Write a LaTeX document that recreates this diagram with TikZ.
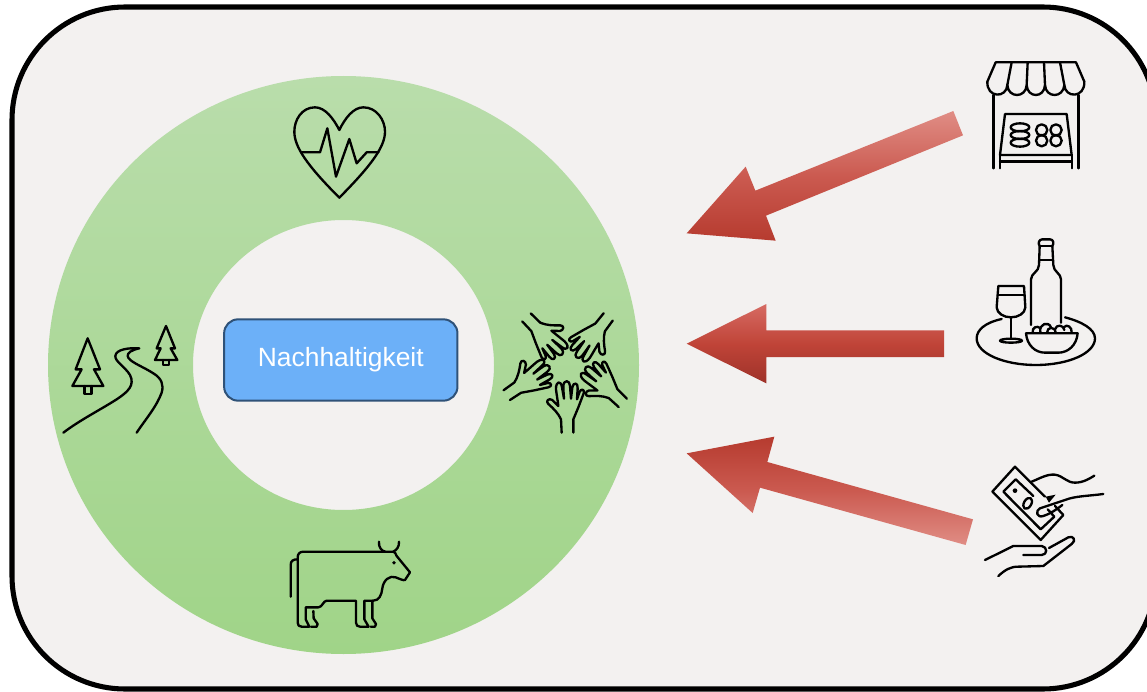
\documentclass[tikz,border=0pt]{standalone}
\usepackage{fontspec}
\setmainfont{Liberation Sans}
\definecolor{panelfill}{HTML}{F3F1F0}
\definecolor{ringtop}{HTML}{B9DDAB}
\definecolor{ringbot}{HTML}{A0D488}
\definecolor{boxfill}{HTML}{6CB0F8}
\definecolor{boxline}{HTML}{2F5278}
\definecolor{redlight}{HTML}{E08D85}
\definecolor{redmid}{HTML}{CB5A50}
\definecolor{reddark}{HTML}{B63B2F}
\definecolor{redtwotop}{HTML}{D66B63}
\definecolor{redtwomid}{HTML}{C04438}
\definecolor{redtwobot}{HTML}{9E3229}
\tikzset{
  icon/.style={draw=black,line width=1.75pt,line join=round,line cap=round},
  crop/.style={shift={#1},scale=1/3},
  arrowdown/.style={top color=redlight,bottom color=reddark,middle color=redmid},
  arrowup/.style={top color=reddark,bottom color=redlight,middle color=redmid},
  arrowmid/.style={top color=redtwotop,bottom color=redtwobot,middle color=redtwomid},
}
\newcommand{\handshape}{%
  \draw[icon,shift={(-217,-398)}]
    (200,398) -- (198,358) .. controls (190,340) and (175,325) .. (160,312)
    .. controls (150,303) and (162,293) .. (172,300)
    -- (190,318) .. controls (188,300) and (185,285) .. (183,268)
    .. controls (182,243) and (198,240) .. (201,262)
    -- (207,296) .. controls (206,280) and (205,270) .. (205,258)
    .. controls (206,238) and (225,240) .. (225,258)
    -- (228,296) -- (232,262) .. controls (235,245) and (250,248) .. (248,265)
    -- (246,298) -- (254,275) .. controls (258,265) and (270,268) .. (266,280)
    -- (250,322) -- (235,358) -- (235,398);
}
\begin{document}
\begin{tikzpicture}[x=0.75pt,y=-0.75pt]
\useasboundingbox (0,0) rectangle (1147,692);
% panel
\draw[fill=panelfill,draw=black,line width=3.8pt,rounded corners=84.75pt] (12,7) rectangle (1156,689);
% ring
\shade[even odd rule,top color=ringtop,bottom color=ringbot]
  (343.5,365) ellipse (295.5 and 289) (343.5,365) ellipse (150.5 and 145);
% centre box
\node[draw=boxline,fill=boxfill,line width=1.5pt,rounded corners=10.5pt,minimum width=175pt,minimum height=61pt,inner sep=0pt,text=white,font=\fontsize{19.8}{23}\selectfont] (core) at (340.8,360) {\raisebox{-2.2pt}{Nachhaltigkeit}};
% arrows
\begin{scope}[crop={(680,100)}]
\shade[arrowdown] (20,400) -- (197,200) -- (226,272) -- (820,33) -- (849,106) -- (258,347) -- (287,422) -- cycle;
\end{scope}
\begin{scope}[crop={(680,295)}]
\shade[arrowmid] (20,146) -- (259,27) -- (259,106) -- (792,106) -- (792,186) -- (259,186) -- (259,265) -- cycle;
\end{scope}
\begin{scope}[crop={(680,430)}]
\shade[arrowup] (20,70) -- (283,20) -- (262,96) -- (879,268) -- (857,345) -- (240,173) -- (218,249) -- cycle;
\end{scope}
% heart
\begin{scope}[crop={(270,90)}]
\draw[icon] (208,120) .. controls (190,85) and (165,52) .. (135,52)
  .. controls (95,52) and (73,90) .. (73,125)
  .. controls (73,170) and (110,225) .. (208,323)
  .. controls (305,225) and (345,170) .. (345,125)
  .. controls (345,90) and (320,52) .. (280,52)
  .. controls (250,52) and (225,85) .. (208,120) -- cycle;
\draw[icon] (95,187) -- (150,187) -- (172,115) -- (198,260) -- (238,147) -- (260,220) -- (290,187) -- (325,187);
\end{scope}
% landscape
\begin{scope}[crop={(40,310)}]
\draw[icon] (143,85) -- (180,178) -- (162,178) -- (190,228) -- (97,228) -- (125,178) -- (107,178) -- cycle;
\draw[icon] (133,228) -- (133,252) -- (155,252) -- (155,228);
\draw[icon] (378,48) -- (405,115) -- (392,115) -- (412,150) -- (345,150) -- (362,115) -- (350,115) -- cycle;
\draw[icon] (370,150) -- (370,165) -- (387,165) -- (387,150);
\draw[icon] (70,368) .. controls (120,330) and (180,300) .. (230,268)
  .. controls (265,245) and (285,225) .. (270,195)
  .. controls (255,170) and (225,155) .. (226,138)
  .. controls (228,118) and (265,113) .. (298,115)
  .. controls (275,120) and (262,128) .. (263,138)
  .. controls (265,155) and (310,170) .. (340,190)
  .. controls (365,205) and (372,225) .. (365,248)
  .. controls (350,290) and (315,330) .. (290,368);
\end{scope}
% hands
\begin{scope}[crop={(495,300)}]
\begin{scope}[shift={(217,398)}]\handshape\end{scope}
\begin{scope}[shift={(383,309)},rotate=45]\handshape\end{scope}
\begin{scope}[shift={(340,51)},rotate=141]\handshape\end{scope}
\begin{scope}[shift={(95,52)},rotate=223]\handshape\end{scope}
\begin{scope}[shift={(35,285)},rotate=-57]\handshape\end{scope}
\end{scope}
% cow
\begin{scope}[crop={(275,530)}]
\draw[icon] (47,200) -- (47,105) .. controls (47,92) and (55,88) .. (68,88);
\draw[icon] (355,65) -- (85,65) .. controls (74,65) and (68,72) .. (68,82) -- (68,278)
  .. controls (68,286) and (72,290) .. (80,290) -- (103,290) -- (92,268) -- (92,232) -- (130,232)
  .. controls (142,232) and (145,212) .. (155,212) -- (243,212) -- (243,278)
  .. controls (243,286) and (248,290) .. (255,290) -- (281,290) -- (268,268) -- (268,212) -- (295,212)
  .. controls (312,212) and (320,195) .. (322,175)
  .. controls (325,150) and (345,135) .. (362,142)
  .. controls (375,147) and (385,152) .. (390,150) -- (405,127) -- (365,78)
  .. controls (362,72) and (360,65) .. (355,65);
\draw[icon] (115,243) -- (116,265) -- (128,282) -- (125,290) -- (108,290);
\draw[icon] (292,212) -- (292,265) -- (303,282) -- (300,290) -- (287,290);
\draw[icon] (312,35) .. controls (310,52) and (320,62) .. (330,65);
\draw[icon] (372,35) .. controls (373,50) and (365,60) .. (355,65);
\fill (357,98) circle (5.5);
\end{scope}
% market stall
\begin{scope}[crop={(975,50)}]
\draw[icon] (62,37) -- (303,37) -- (328,95) .. controls (330,145) and (270,145) .. (268,105)
  .. controls (265,145) and (212,145) .. (210,105)
  .. controls (208,145) and (157,145) .. (155,105)
  .. controls (153,145) and (99,145) .. (97,105)
  .. controls (95,145) and (35,145) .. (37,95) -- cycle;
\draw[icon] (110,37) -- (97,105);
\draw[icon] (158,37) -- (155,105);
\draw[icon] (207,37) -- (210,105);
\draw[icon] (255,37) -- (268,105);
\draw[icon] (55,135) -- (55,355);
\draw[icon] (310,135) -- (310,355);
\draw[icon] (90,192) -- (275,192) -- (290,315) -- (75,315) -- cycle;
\draw[icon] (75,315) -- (75,355);
\draw[icon] (290,315) -- (290,355);
\draw[icon] (75,335) -- (290,335);
\draw[icon] (135,232) ellipse (28 and 12);
\draw[icon] (135,255) ellipse (28 and 12);
\draw[icon] (135,278) ellipse (28 and 12);
\draw[icon] (200,240) circle (17);
\draw[icon] (243,240) circle (17);
\draw[icon] (200,272) circle (17);
\draw[icon] (243,272) circle (17);
\end{scope}
% wine and tray
\begin{scope}[crop={(965,230)}]
\draw[icon] (110,267) .. controls (60,278) and (35,300) .. (35,325)
  .. controls (35,372) and (120,405) .. (212,405)
  .. controls (310,405) and (390,370) .. (390,325)
  .. controls (390,297) and (350,275) .. (300,262);
\draw[icon] (198,285) -- (198,148) .. controls (198,130) and (222,125) .. (222,105) -- (224,48)
  .. controls (218,40) and (222,28) .. (232,28) -- (255,28)
  .. controls (265,28) and (268,40) .. (262,48) -- (265,105)
  .. controls (265,125) and (288,130) .. (288,148) -- (288,278);
\draw[icon] (224,48) -- (262,48);
\draw[icon] (223,90) -- (264,90);
\draw[icon] (100,168) -- (177,168) -- (181,232) .. controls (180,250) and (160,262) .. (138,262)
  .. controls (116,262) and (96,250) .. (95,232) -- cycle;
\draw[icon] (98,195) -- (179,195);
\draw[icon] (138,262) -- (138,325);
\draw[icon] (138,332) ellipse (33 and 6);
\draw[icon] (183,310) -- (338,310) .. controls (335,345) and (310,368) .. (280,368) -- (240,368)
  .. controls (210,368) and (186,345) .. (183,310) -- cycle;
\draw[icon] (203,308) .. controls (200,292) and (218,285) .. (226,295);
\draw[icon] (226,305) .. controls (222,282) and (250,272) .. (258,292);
\draw[icon] (246,308) .. controls (246,290) and (270,288) .. (272,308);
\draw[icon] (270,298) .. controls (274,282) and (296,284) .. (298,300);
\draw[icon] (296,292) .. controls (306,280) and (322,292) .. (320,308);
\end{scope}
% money
\begin{scope}[crop={(975,460)}]
\draw[icon] (210,110) -- (120,20) -- (52,95) -- (197,240) -- (265,165) -- (240,138);
\draw[icon] (175,108) -- (122,58) -- (85,95) -- (197,208) -- (238,170) -- (218,148);
\fill (120,92) circle (7);
\draw[icon,shift={(158,130)},rotate=-30] (0,0) ellipse (11 and 18);
\fill (212,110) -- (242,104) -- (222,128) -- cycle;
\draw[icon] (170,65) .. controls (195,55) and (215,42) .. (240,44)
  .. controls (265,48) and (275,68) .. (300,68)
  .. controls (325,68) and (345,55) .. (358,47);
\draw[icon] (385,102) .. controls (340,108) and (300,108) .. (270,120)
  -- (195,145) .. controls (180,152) and (185,175) .. (205,168)
  .. controls (225,162) and (245,148) .. (262,135);
\draw[icon] (30,300) -- (115,258) -- (200,258) .. controls (218,260) and (218,285) .. (200,285) -- (145,285);
\draw[icon] (222,264) -- (280,232) .. controls (295,225) and (305,242) .. (290,252)
  -- (205,318) -- (130,320) .. controls (105,320) and (90,330) .. (70,348);
\end{scope}
\end{tikzpicture}
\end{document}
